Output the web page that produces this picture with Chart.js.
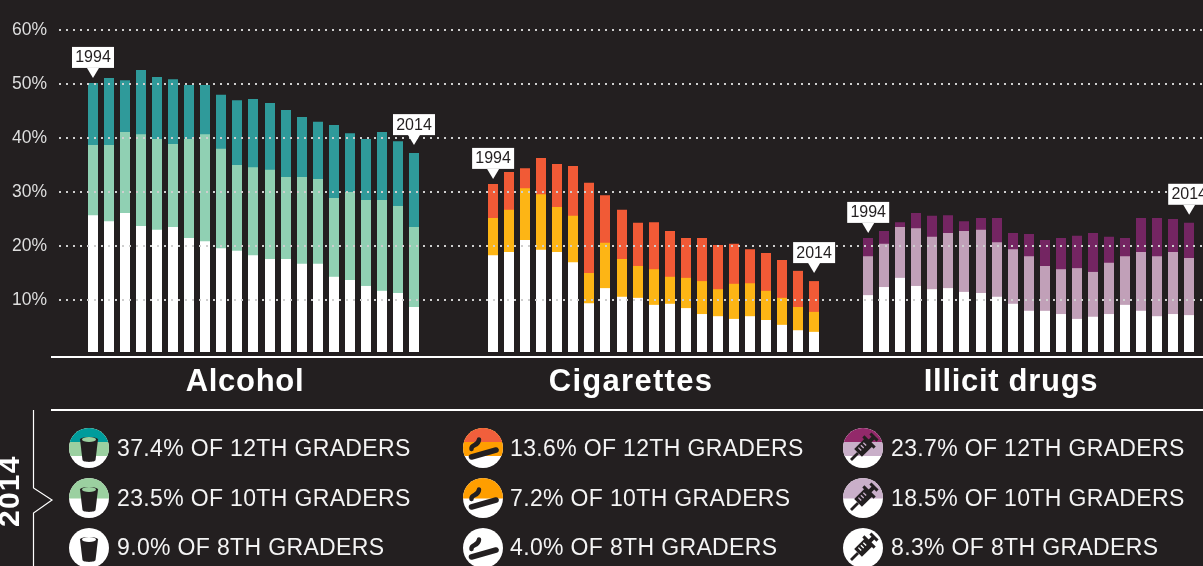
<!DOCTYPE html>
<html>
<head>
<meta charset="utf-8">
<title>Teen substance use</title>
<script src="https://cdn.jsdelivr.net/npm/chart.js@4/dist/chart.umd.min.js"></script>
<style>
  html, body { margin: 0; padding: 0; background: #231f20; }
  body { width: 1203px; height: 566px; position: relative; overflow: hidden; font-family: "Liberation Sans", Arial, sans-serif; color: #fff; }
  #chart { position: absolute; left: 0; top: 0; }
  .title { position: absolute; top: 362px; font-size: 31px; font-weight: bold; letter-spacing: 0.7px; transform: translateX(-50%); white-space: nowrap; line-height: 38px; }
  .rule { position: absolute; left: 51px; right: 0; height: 2px; background: #fff; }
  .row { position: absolute; font-size: 23px; line-height: 30px; white-space: nowrap; letter-spacing: 0.35px; color: #f4f4f4; }
  .icon { position: absolute; width: 40px; height: 40px; }
  #year { position: absolute; left: -21px; top: 482px; width: 60px; text-align: center; font-size: 30px; font-weight: bold; line-height: 30px; transform: rotate(-90deg); letter-spacing: 1.2px; }
  #bracket { position: absolute; left: 0; top: 405px; }
</style>
</head>
<body>
<canvas id="chart" width="1203" height="566"></canvas>
<div class="rule" style="top:356px"></div>
<div class="rule" style="top:409px;height:1.5px"></div>
<div class="title" style="left:245px">Alcohol</div>
<div class="title" style="left:631px;letter-spacing:1.3px">Cigarettes</div>
<div class="title" style="left:1011px">Illicit drugs</div>
<svg id="bracket" width="60" height="161"><path d="M33.5 5V83L52 95L33.5 108V161" fill="none" stroke="#fff" stroke-width="1.2"/></svg>
<div id="year">2014</div>
<div id="legend"></div>
<script>
// One value per school year 1994-2014
const years = [1994,1995,1996,1997,1998,1999,2000,2001,2002,2003,2004,2005,2006,2007,2008,2009,2010,2011,2012,2013,2014];

const alcohol12 = [50.2,51.1,50.7,52.6,51.3,50.9,49.8,49.8,48.0,47.0,47.2,46.5,45.2,43.9,43.0,42.4,40.9,39.8,41.1,39.4,37.2];
const alcohol10 = [38.7,38.7,41.1,40.7,39.8,38.9,39.8,40.7,38.0,35.0,34.6,34.1,32.8,32.8,32.4,28.9,30.0,28.5,28.5,27.4,23.5];
const alcohol8 = [25.7,24.6,26.1,23.7,23.0,23.5,21.5,20.9,19.6,19.1,18.3,17.6,17.6,16.7,16.7,14.3,13.7,12.6,11.7,11.3,8.7];

const cigarettes12 = [31.5,33.7,34.4,36.3,35.2,34.8,31.7,29.4,26.7,24.3,24.4,22.8,21.5,21.5,20.2,20.4,19.4,18.7,17.4,15.4,13.5];
const cigarettes10 = [25.2,26.7,30.7,29.6,27.2,25.6,15.0,20.6,17.6,16.3,15.7,14.3,14.1,13.5,12.0,13.0,13.1,11.7,10.4,8.7,7.8];
const cigarettes8 = [18.3,18.9,21.1,19.3,18.9,17.0,9.4,12.2,10.6,10.4,9.1,9.3,8.5,7.4,7.0,6.5,7.0,6.3,5.4,4.4,4.1];

const illicit12 = [21.5,22.8,24.4,26.1,25.6,25.7,24.6,25.2,25.2,22.4,22.2,21.1,21.5,21.9,22.4,21.7,21.5,25.2,25.2,25.0,24.3];
const illicit10 = [18.1,20.4,23.5,23.3,21.7,22.4,22.8,23.0,20.7,19.4,18.1,16.3,15.7,15.9,15.2,16.9,18.1,18.9,18.1,18.9,17.8];
const illicit8 = [10.9,12.4,14.1,12.6,12.0,12.2,11.5,11.3,10.6,9.3,8.0,8.0,7.4,6.5,6.9,7.4,9.1,8.0,7.0,7.4,7.2];

const yTicks = [10,20,30,40,50,60];

const legend12 = ["37.4% OF 12TH GRADERS","13.6% OF 12TH GRADERS","23.7% OF 12TH GRADERS"];
const legend10 = ["23.5% OF 10TH GRADERS","7.2% OF 10TH GRADERS","18.5% OF 10TH GRADERS"];
const legend8 = ["9.0% OF 8TH GRADERS","4.0% OF 8TH GRADERS","8.3% OF 8TH GRADERS"];

// Each group sits this many bar steps from the left of the x scale
const panelStart = [0, 24.93, 48.3];

function series(values, panel) {
    return values.map((v, i) => ({ x: panelStart[panel] + (years[i] - years[0]), y: v }));
}

function bars(label, values, panel, color) {
    return { label: label, data: series(values, panel), backgroundColor: color };
}

// First dataset is painted last in Chart.js, so 8th grade goes first
const datasets = [
    bars("Alcohol 8th", alcohol8, 0, "#ffffff"),
    bars("Alcohol 10th", alcohol10, 0, "#90d0b3"),
    bars("Alcohol 12th", alcohol12, 0, "#2f9a9a"),
    bars("Cigarettes 8th", cigarettes8, 1, "#ffffff"),
    bars("Cigarettes 10th", cigarettes10, 1, "#fdb515"),
    bars("Cigarettes 12th", cigarettes12, 1, "#f15a36"),
    bars("Illicit 8th", illicit8, 2, "#ffffff"),
    bars("Illicit 10th", illicit10, 2, "#c1a0b8"),
    bars("Illicit 12th", illicit12, 2, "#742562")
];

// Overlaid bars fringe at fractional x, so snap them to whole pixels
const snapPlugin = {
    id: "snap",
    beforeDatasetsDraw(chart) {
        chart.getSortedVisibleDatasetMetas().forEach(meta => {
            meta.data.forEach(bar => {
                bar.x = Math.round(bar.x);
            });
        });
    }
};

// The little 1994 / 2014 flags above the first and last 12th grade bars
const flagPlugin = {
    id: "flags",
    afterDraw(chart) {
        const ctx = chart.ctx;
        const x = chart.scales.x;
        const y = chart.scales.y;

        function flag(point, text, lift) {
            const px = x.getPixelForValue(point.x);
            const py = y.getPixelForValue(point.y);
            const bottom = py - lift;

            ctx.save();
            ctx.fillStyle = "#fff";
            ctx.fillRect(px - 21, bottom - 21, 42, 21);
            ctx.beginPath();
            ctx.moveTo(px - 6, bottom);
            ctx.lineTo(px + 6, bottom);
            ctx.lineTo(px, bottom + 10);
            ctx.closePath();
            ctx.fill();
            ctx.fillStyle = "#231f20";
            ctx.font = "16px 'Liberation Sans'";
            ctx.textAlign = "center";
            ctx.textBaseline = "middle";
            ctx.fillText(text, px, bottom - 10);
            ctx.restore();
        }

        [alcohol12, cigarettes12, illicit12].forEach((values, panel) => {
            const pts = series(values, panel);
            flag(pts[0], String(years[0]), 15);
            flag(pts[pts.length - 1], String(years[years.length - 1]), 18);
        });
    }
};

new Chart(document.getElementById("chart"), {
    type: "bar",
    data: { datasets: datasets },
    plugins: [snapPlugin, flagPlugin],
    options: {
        responsive: false,
        animation: false,
        layout: { padding: { top: 30, bottom: 208 } },
        plugins: { legend: { display: false }, tooltip: { enabled: false } },
        datasets: { bar: { grouped: false, barThickness: 10, base: 2 / 5.4, inflateAmount: 0 } },
        scales: {
            x: {
                type: "linear",
                display: false,
                offset: false,
                min: -2.118,
                max: 69.16
            },
            y: {
                min: -4 / 5.4,
                max: 60,
                afterBuildTicks(scale) {
                    scale.ticks = yTicks.map(v => ({ value: v }));
                },
                afterFit(scale) {
                    scale.width = 59;
                },
                ticks: {
                    color: "#dedede",
                    padding: 12,
                    font: { family: "'Liberation Sans'", size: 17.5 },
                    callback: v => v + "%"
                },
                border: { display: false, dash: [2, 5] },
                grid: { color: "#cfcfcf", lineWidth: 2, tickLength: 0, z: 1 }
            }
        }
    }
});

// Icons and text under the chart
const bandColors = [
    ["#009c9c", "#9bd0a0"],
    ["#f15f3c", "#ff9e00"],
    ["#93296a", "#c9afc9"]
];
const glyphs = [
    '<path d="M11 11.5C11 8 29 8 29 11.5L26.5 32C26 34.5 14 34.5 13.5 32Z" fill="#231f20"/><ellipse cx="20" cy="11.5" rx="7" ry="2.5" fill="COLOR"/>',
    '<path d="M8.5 29L33 22" stroke="#231f20" stroke-width="5.5" stroke-linecap="round"/><path d="M8.5 21C8 16 15.5 18.5 16 11.5" fill="none" stroke="#231f20" stroke-width="4.5" stroke-linecap="round"/>',
    '<g transform="rotate(45 20 20)" fill="#231f20"><rect x="14.5" y="12" width="11" height="15"/><rect x="12" y="10" width="16" height="3"/><rect x="18" y="5" width="4" height="6"/><rect x="15" y="3" width="10" height="3"/><rect x="18.6" y="27" width="2.8" height="10"/><path d="M16.5 16h4M16.5 19.5h4M16.5 23h4" stroke="COLOR" stroke-width="1.3"/></g>'
];
const rowTops = [428, 478, 528];
const iconLeft = [69, 463, 843];
const textLeft = [117, 510, 891];

function iconSvg(col, row) {
    // 3 bands on the 12th grade row, 2 on 10th, plain white on 8th
    let rects = '<rect width="40" height="40" fill="#fff"/>';
    let rim = "#fff";
    if (row === 0) {
        rects += '<rect width="40" height="28" fill="' + bandColors[col][1] + '"/><rect width="40" height="14" fill="' + bandColors[col][0] + '"/>';
        rim = bandColors[col][1];
    } else if (row === 1) {
        rects += '<rect width="40" height="20.5" fill="' + bandColors[col][1] + '"/>';
        rim = bandColors[col][1];
    }
    const id = "c" + col + row;
    return '<svg class="icon" style="left:' + iconLeft[col] + 'px;top:' + rowTops[row] + 'px" viewBox="0 0 40 40">' +
        '<clipPath id="' + id + '"><circle cx="20" cy="20" r="20"/></clipPath>' +
        '<g clip-path="url(#' + id + ')">' + rects + glyphs[col].split("COLOR").join(rim) + '</g></svg>';
}

let html = "";
[legend12, legend10, legend8].forEach((texts, row) => {
    texts.forEach((text, col) => {
        html += iconSvg(col, row);
        html += '<div class="row" style="left:' + textLeft[col] + 'px;top:' + (rowTops[row] + 5 - (row === 2 ? 1 : 0)) + 'px">' + text + '</div>';
    });
});
document.getElementById("legend").innerHTML = html;
</script>
</body>
</html>
